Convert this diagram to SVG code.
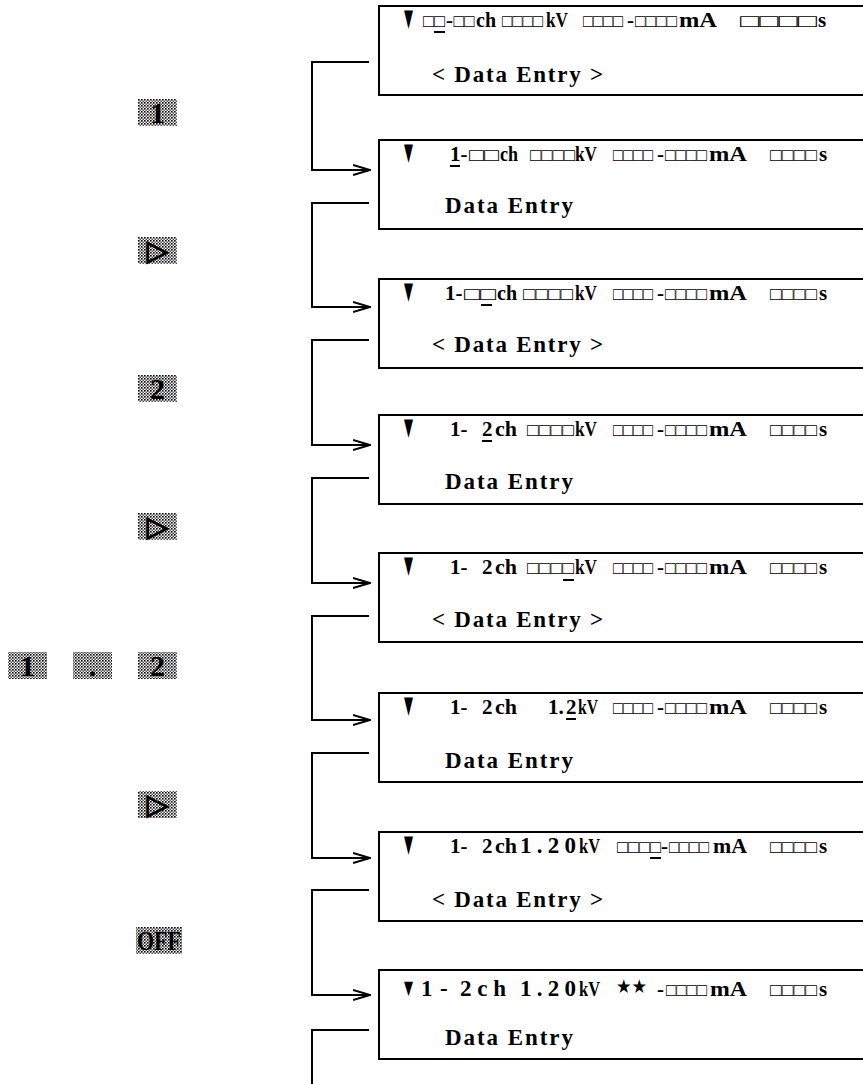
<svg xmlns="http://www.w3.org/2000/svg" width="863" height="1084" viewBox="0 0 863 1084">
<style>
.box{fill:#fff;stroke:#000;stroke-width:2}
.l1{font-family:'Liberation Serif','DejaVu Serif',serif;font-weight:bold;font-size:21px;fill:#000}
.c{font-family:'Liberation Serif','DejaVu Serif',serif;font-weight:bold;font-size:18px;fill:#000}
.l2{font-family:'Liberation Serif','DejaVu Serif',serif;font-weight:bold;font-size:23px;fill:#000}
.tri{font-family:'DejaVu Sans',sans-serif;font-size:24px;fill:#000}
.st{font-family:'DejaVu Sans',sans-serif;font-size:19px;fill:#000}
.ul{stroke:#000;stroke-width:2}
.con{fill:none;stroke:#000;stroke-width:2}
.key{fill:url(#ht)}
.kt{font-family:'Liberation Serif',serif;font-weight:bold;font-size:30px;fill:#000;text-anchor:middle}
.ks{font-family:'DejaVu Sans',sans-serif;font-weight:bold;font-size:28px;fill:#000;stroke:#000;stroke-width:1.2;text-anchor:middle}
</style>
<defs>
<pattern id="ht" width="3" height="3" patternUnits="userSpaceOnUse"><rect width="3" height="3" fill="#fff"/><rect width="1.6" height="1.6" fill="#000"/><rect x="1.5" y="1.5" width="1.5" height="1.5" fill="#555"/></pattern>
<marker id="ar" viewBox="0 0 18 12" refX="17" refY="6" markerWidth="18" markerHeight="12" markerUnits="userSpaceOnUse" orient="auto"><path d="M0,1 L17,6 L0,11" fill="none" stroke="#000" stroke-width="2"/></marker>
</defs>
<rect width="863" height="1084" fill="#fff"/>

<g id="connectors">
<path class="con" d="M369,62 H312 V170 H370" marker-end="url(#ar)"/>
<path class="con" d="M369,203 H312 V307 H370" marker-end="url(#ar)"/>
<path class="con" d="M369,340 H312 V445 H370" marker-end="url(#ar)"/>
<path class="con" d="M369,478 H312 V583 H370" marker-end="url(#ar)"/>
<path class="con" d="M369,616 H312 V720 H370" marker-end="url(#ar)"/>
<path class="con" d="M369,753 H312 V858 H370" marker-end="url(#ar)"/>
<path class="con" d="M369,890 H312 V995 H370" marker-end="url(#ar)"/>
<path class="con" d="M369,1030 H312 V1084"/>
</g>

<g id="keys">
<g id="key-1"><rect class="key" x="138" y="99" width="39" height="27"/><text class="kt" x="157.5" y="123">1</text></g>
<g id="key-right-1"><rect class="key" x="138" y="237" width="39" height="27"/><text class="ks" x="157.5" y="260">▷</text></g>
<g id="key-2"><rect class="key" x="138" y="375" width="39" height="27"/><text class="kt" x="157.5" y="399">2</text></g>
<g id="key-right-2"><rect class="key" x="138" y="513" width="39" height="27"/><text class="ks" x="157.5" y="536">▷</text></g>
<g id="key-1b"><rect class="key" x="8" y="652" width="39" height="27"/><text class="kt" x="27.5" y="676">1</text></g>
<g id="key-dot"><rect class="key" x="73" y="652" width="39" height="27"/><text class="kt" x="92.5" y="676">.</text></g>
<g id="key-2b"><rect class="key" x="138" y="652" width="39" height="27"/><text class="kt" x="157.5" y="676">2</text></g>
<g id="key-right-3"><rect class="key" x="138" y="791" width="39" height="27"/><text class="ks" x="157.5" y="814">▷</text></g>
<g id="key-off"><rect class="key" x="136" y="927" width="46" height="27"/><text class="kt" x="159" y="950" style="font-size:27px" textLength="44" lengthAdjust="spacingAndGlyphs">OFF</text></g>
</g>

<g id="screen-1">
<rect class="box" x="379" y="6" width="500" height="89"/>
<text class="tri" x="404" y="26" textLength="9" lengthAdjust="spacingAndGlyphs">▼</text>
<text class="c" x="423" y="27" textLength="22" lengthAdjust="spacingAndGlyphs">□□</text>
<text class="l1" x="446" y="27">-</text>
<text class="c" x="453.5" y="27" textLength="21" lengthAdjust="spacingAndGlyphs">□□</text>
<text class="l1" x="476" y="27" textLength="20" lengthAdjust="spacingAndGlyphs">ch</text>
<text class="c" x="502" y="27" textLength="41" lengthAdjust="spacingAndGlyphs">□□□□</text>
<text class="l1" x="546" y="27" textLength="22" lengthAdjust="spacingAndGlyphs">kV</text>
<text class="c" x="583" y="27" textLength="40" lengthAdjust="spacingAndGlyphs">□□□□</text>
<text class="l1" x="627" y="27">-</text>
<text class="c" x="635" y="27" textLength="42" lengthAdjust="spacingAndGlyphs">□□□□</text>
<text class="l1" x="679" y="27" textLength="38" lengthAdjust="spacingAndGlyphs">mA</text>
<text class="c" x="740" y="27" textLength="77" lengthAdjust="spacingAndGlyphs">□□□□</text>
<text class="l1" x="818" y="27">s</text>
<line class="ul" x1="434" y1="32" x2="445" y2="32"/>
<text class="l2" x="432" y="82" textLength="171" lengthAdjust="spacing">&lt; Data Entry &gt;</text>
</g>

<g id="screen-2">
<rect class="box" x="379" y="140" width="500" height="89"/>
<text class="tri" x="404" y="160" textLength="9" lengthAdjust="spacingAndGlyphs">▼</text>
<text class="l1" x="450" y="161">1-</text>
<text class="c" x="469" y="161" textLength="30" lengthAdjust="spacingAndGlyphs">□□</text>
<text class="l1" x="500" y="161" textLength="18" lengthAdjust="spacingAndGlyphs">ch</text>
<text class="c" x="530" y="161" textLength="45" lengthAdjust="spacingAndGlyphs">□□□□</text>
<text class="l1" x="575" y="161" textLength="22" lengthAdjust="spacingAndGlyphs">kV</text>
<text class="c" x="613" y="161" textLength="40" lengthAdjust="spacingAndGlyphs">□□□□</text>
<text class="l1" x="657" y="161">-</text>
<text class="c" x="665" y="161" textLength="42" lengthAdjust="spacingAndGlyphs">□□□□</text>
<text class="l1" x="709" y="161" textLength="38" lengthAdjust="spacingAndGlyphs">mA</text>
<text class="c" x="770" y="161" textLength="47" lengthAdjust="spacingAndGlyphs">□□□□</text>
<text class="l1" x="819" y="161">s</text>
<line class="ul" x1="450" y1="166" x2="460" y2="166"/>
<text class="l2" x="445" y="213" textLength="128" lengthAdjust="spacing">Data Entry</text>
</g>

<g id="screen-3">
<rect class="box" x="379" y="279" width="500" height="89"/>
<text class="tri" x="404" y="299" textLength="9" lengthAdjust="spacingAndGlyphs">▼</text>
<text class="l1" x="445" y="300">1-</text>
<text class="c" x="464" y="300" textLength="32" lengthAdjust="spacingAndGlyphs">□□</text>
<text class="l1" x="497" y="300" textLength="20" lengthAdjust="spacingAndGlyphs">ch</text>
<text class="c" x="523" y="300" textLength="50" lengthAdjust="spacingAndGlyphs">□□□□</text>
<text class="l1" x="575" y="300" textLength="22" lengthAdjust="spacingAndGlyphs">kV</text>
<text class="c" x="613" y="300" textLength="40" lengthAdjust="spacingAndGlyphs">□□□□</text>
<text class="l1" x="657" y="300">-</text>
<text class="c" x="665" y="300" textLength="42" lengthAdjust="spacingAndGlyphs">□□□□</text>
<text class="l1" x="709" y="300" textLength="38" lengthAdjust="spacingAndGlyphs">mA</text>
<text class="c" x="770" y="300" textLength="47" lengthAdjust="spacingAndGlyphs">□□□□</text>
<text class="l1" x="819" y="300">s</text>
<line class="ul" x1="481" y1="305" x2="492" y2="305"/>
<text class="l2" x="432" y="352" textLength="171" lengthAdjust="spacing">&lt; Data Entry &gt;</text>
</g>

<g id="screen-4">
<rect class="box" x="379" y="415" width="500" height="89"/>
<text class="tri" x="404" y="435" textLength="9" lengthAdjust="spacingAndGlyphs">▼</text>
<text class="l1" x="450" y="436">1-</text>
<text class="l1" x="482" y="436">2</text>
<text class="l1" x="495" y="436" textLength="22" lengthAdjust="spacingAndGlyphs">ch</text>
<text class="c" x="527" y="436" textLength="47" lengthAdjust="spacingAndGlyphs">□□□□</text>
<text class="l1" x="575" y="436" textLength="22" lengthAdjust="spacingAndGlyphs">kV</text>
<text class="c" x="613" y="436" textLength="40" lengthAdjust="spacingAndGlyphs">□□□□</text>
<text class="l1" x="657" y="436">-</text>
<text class="c" x="665" y="436" textLength="42" lengthAdjust="spacingAndGlyphs">□□□□</text>
<text class="l1" x="709" y="436" textLength="38" lengthAdjust="spacingAndGlyphs">mA</text>
<text class="c" x="770" y="436" textLength="47" lengthAdjust="spacingAndGlyphs">□□□□</text>
<text class="l1" x="819" y="436">s</text>
<line class="ul" x1="482" y1="441" x2="492" y2="441"/>
<text class="l2" x="445" y="489" textLength="128" lengthAdjust="spacing">Data Entry</text>
</g>

<g id="screen-5">
<rect class="box" x="379" y="553" width="500" height="89"/>
<text class="tri" x="404" y="573" textLength="9" lengthAdjust="spacingAndGlyphs">▼</text>
<text class="l1" x="450" y="574">1-</text>
<text class="l1" x="482" y="574">2</text>
<text class="l1" x="495" y="574" textLength="22" lengthAdjust="spacingAndGlyphs">ch</text>
<text class="c" x="527" y="574" textLength="47" lengthAdjust="spacingAndGlyphs">□□□□</text>
<text class="l1" x="575" y="574" textLength="22" lengthAdjust="spacingAndGlyphs">kV</text>
<text class="c" x="613" y="574" textLength="40" lengthAdjust="spacingAndGlyphs">□□□□</text>
<text class="l1" x="657" y="574">-</text>
<text class="c" x="665" y="574" textLength="42" lengthAdjust="spacingAndGlyphs">□□□□</text>
<text class="l1" x="709" y="574" textLength="38" lengthAdjust="spacingAndGlyphs">mA</text>
<text class="c" x="770" y="574" textLength="47" lengthAdjust="spacingAndGlyphs">□□□□</text>
<text class="l1" x="819" y="574">s</text>
<line class="ul" x1="563" y1="580" x2="574" y2="580"/>
<text class="l2" x="432" y="627" textLength="171" lengthAdjust="spacing">&lt; Data Entry &gt;</text>
</g>

<g id="screen-6">
<rect class="box" x="379" y="693" width="500" height="89"/>
<text class="tri" x="404" y="713" textLength="9" lengthAdjust="spacingAndGlyphs">▼</text>
<text class="l1" x="450" y="714">1-</text>
<text class="l1" x="482" y="714">2</text>
<text class="l1" x="495" y="714" textLength="22" lengthAdjust="spacingAndGlyphs">ch</text>
<text class="l1" x="548" y="714">1.</text>
<text class="l1" x="566" y="714">2</text>
<text class="l1" x="578" y="714" textLength="20" lengthAdjust="spacingAndGlyphs">kV</text>
<text class="c" x="613" y="714" textLength="40" lengthAdjust="spacingAndGlyphs">□□□□</text>
<text class="l1" x="657" y="714">-</text>
<text class="c" x="665" y="714" textLength="42" lengthAdjust="spacingAndGlyphs">□□□□</text>
<text class="l1" x="709" y="714" textLength="38" lengthAdjust="spacingAndGlyphs">mA</text>
<text class="c" x="770" y="714" textLength="47" lengthAdjust="spacingAndGlyphs">□□□□</text>
<text class="l1" x="819" y="714">s</text>
<line class="ul" x1="566" y1="719" x2="576" y2="719"/>
<text class="l2" x="445" y="768" textLength="128" lengthAdjust="spacing">Data Entry</text>
</g>

<g id="screen-7">
<rect class="box" x="379" y="832" width="500" height="89"/>
<text class="tri" x="404" y="852" textLength="9" lengthAdjust="spacingAndGlyphs">▼</text>
<text class="l1" x="450" y="853">1-</text>
<text class="l1" x="482" y="853">2</text>
<text class="l1" x="495" y="853" textLength="22" lengthAdjust="spacingAndGlyphs">ch</text>
<text class="l1" x="520" y="853" style="font-size:23px" textLength="56" lengthAdjust="spacing">1.20</text>
<text class="l1" x="579" y="853" textLength="21" lengthAdjust="spacingAndGlyphs">kV</text>
<text class="c" x="617" y="853" textLength="44" lengthAdjust="spacingAndGlyphs">□□□□</text>
<text class="l1" x="661" y="853">-</text>
<text class="c" x="669" y="853" textLength="40" lengthAdjust="spacingAndGlyphs">□□□□</text>
<text class="l1" x="713" y="853" textLength="34" lengthAdjust="spacingAndGlyphs">mA</text>
<text class="c" x="770" y="853" textLength="47" lengthAdjust="spacingAndGlyphs">□□□□</text>
<text class="l1" x="819" y="853">s</text>
<line class="ul" x1="650" y1="858" x2="661" y2="858"/>
<text class="l2" x="432" y="907" textLength="171" lengthAdjust="spacing">&lt; Data Entry &gt;</text>
</g>

<g id="screen-8">
<rect class="box" x="379" y="970" width="500" height="89"/>
<text class="tri" x="404" y="994" style="font-size:19px" textLength="9" lengthAdjust="spacingAndGlyphs">▼</text>
<text class="l1" x="421" y="996" style="font-size:23px">1</text>
<text class="l1" x="440" y="996" style="font-size:23px">-</text>
<text class="l1" x="460" y="996" style="font-size:23px" textLength="46" lengthAdjust="spacing">2ch</text>
<text class="l1" x="520" y="996" style="font-size:23px" textLength="56" lengthAdjust="spacing">1.20</text>
<text class="l1" x="579" y="996" textLength="21" lengthAdjust="spacingAndGlyphs">kV</text>
<text class="st" x="616" y="993" textLength="31" lengthAdjust="spacingAndGlyphs">★★</text>
<text class="l1" x="657" y="996">-</text>
<text class="c" x="666" y="996" textLength="41" lengthAdjust="spacingAndGlyphs">□□□□</text>
<text class="l1" x="710" y="996" textLength="37" lengthAdjust="spacingAndGlyphs">mA</text>
<text class="c" x="770" y="996" textLength="47" lengthAdjust="spacingAndGlyphs">□□□□</text>
<text class="l1" x="819" y="996">s</text>
<text class="l2" x="445" y="1045" textLength="128" lengthAdjust="spacing">Data Entry</text>
</g>
</svg>
